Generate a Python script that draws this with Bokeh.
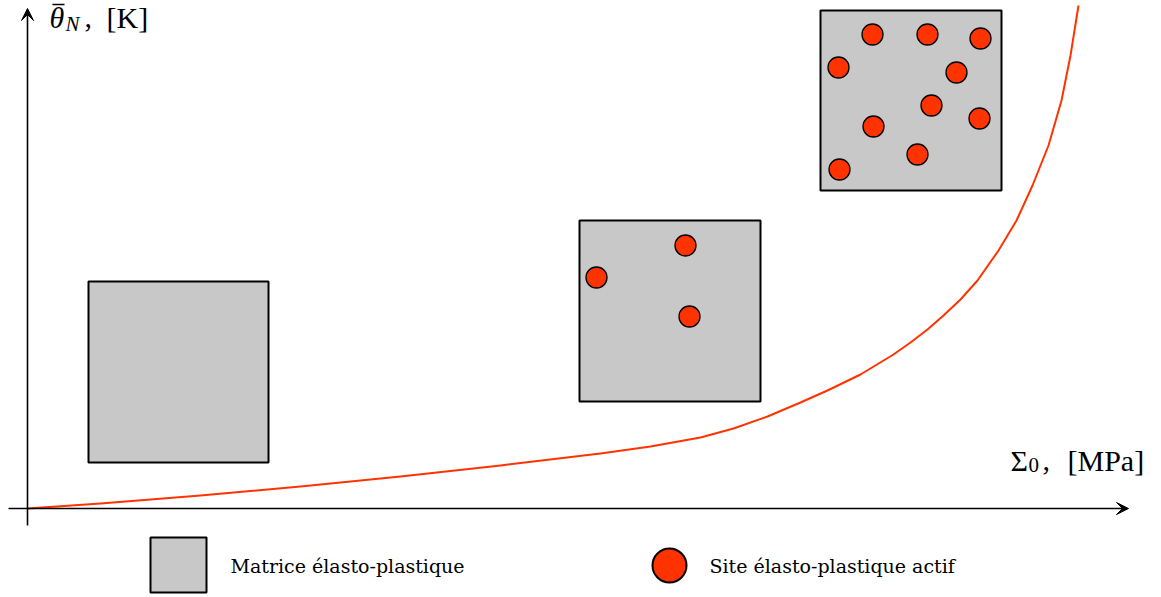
from bokeh.plotting import figure
from bokeh.models import Range1d, Arrow, VeeHead
from bokeh.core.properties import value
from bokeh.embed import file_html
from bokeh.resources import INLINE

# ---- data (schematic units: x = stress, y = temperature) ----
curve_sigma = [0, 73, 173, 273, 373, 473, 573, 623, 673, 706, 740, 773, 800, 833,
               866, 883, 900, 916, 933, 950, 971, 989, 1005, 1021, 1034, 1043, 1051]
curve_theta = [0, 5, 13, 22, 32, 43, 55, 62, 71, 80, 92, 106, 118, 134,
               154, 166, 179, 193, 209, 228, 258, 288, 323, 363, 408, 453, 503]

matrix_left = [61, 552, 793]
matrix_right = [241, 733, 974]
matrix_bottom = [46, 107, 318]
matrix_top = [227, 288, 498]

sites_x = [658, 569, 662,
           845, 900, 953, 811, 929, 904, 846, 952, 890, 812]
sites_y = [263, 231, 192,
           474, 474, 470, 441, 436, 403, 382, 390, 354, 339]

legend_labels = ["Matrice élasto-plastique", "Site élasto-plastique actif"]

GREY = "#c8c8c8"
RED = "#ff3300"
FONT = value("Liberation Serif")
LFONT = value("DejaVu Serif")

p = figure(width=1161, height=597, output_backend="svg", toolbar_location=None,
           x_range=Range1d(-27, 1134), y_range=Range1d(-89, 508),
           min_border=0, outline_line_color=None)
p.axis.visible = False
p.grid.visible = False
p.background_fill_color = "white"
p.border_fill_color = "white"

# axes with arrows
p.add_layout(Arrow(x_start=0, y_start=-17, x_end=0, y_end=500, line_width=1.6,
                   end=VeeHead(size=12, fill_color="black", line_color="black", line_width=1)))
p.add_layout(Arrow(x_start=-19, y_start=0, x_end=1101, y_end=0, line_width=1.6,
                   end=VeeHead(size=12, fill_color="black", line_color="black", line_width=1)))

# curve
p.line(curve_sigma, curve_theta, line_color=RED, line_width=2, line_join="round")

# matrices
p.quad(left=matrix_left, right=matrix_right, bottom=matrix_bottom, top=matrix_top,
       fill_color=GREY, line_color="black", line_width=2)

# active sites
p.scatter(sites_x, sites_y, size=21, marker="circle", fill_color=RED,
          line_color="black", line_width=1.3)

# legend
p.quad(left=[123], right=[179], bottom=[-84], top=[-29],
       fill_color=GREY, line_color="black", line_width=2)
p.scatter([642], [-57], size=34, marker="circle", fill_color=RED,
          line_color="black", line_width=2)
p.text(x=[203, 682], y=[-57, -57], text=legend_labels, text_font=LFONT,
       text_font_size="19px", text_baseline="middle", text_align="left", text_color="black")

# y-axis label: theta-bar_N, [K]
p.text(x=[22], y=[491], text=["θ"], text_font=FONT, text_font_size="30px",
       text_font_style="italic", text_baseline="alphabetic")
p.segment(x0=[25], y0=[504], x1=[37], y1=[504], line_color="black", line_width=1.5)
p.text(x=[38], y=[485], text=["N"], text_font=FONT, text_font_size="21px",
       text_font_style="italic", text_baseline="alphabetic")
p.text(x=[57, 79], y=[491, 491], text=[",", "[K]"], text_font=FONT, text_font_size="30px",
       text_baseline="alphabetic")

# x-axis label: Sigma_0, [MPa]
p.text(x=[983], y=[48], text=["Σ"], text_font=FONT, text_font_size="30px",
       text_baseline="alphabetic")
p.text(x=[1001], y=[44], text=["0"], text_font=FONT, text_font_size="21px",
       text_baseline="alphabetic")
p.text(x=[1015, 1040], y=[48, 48], text=[",", "[MPa]"], text_font=FONT, text_font_size="30px",
       text_baseline="alphabetic")

open("out.html", "w").write(file_html(p, INLINE))
